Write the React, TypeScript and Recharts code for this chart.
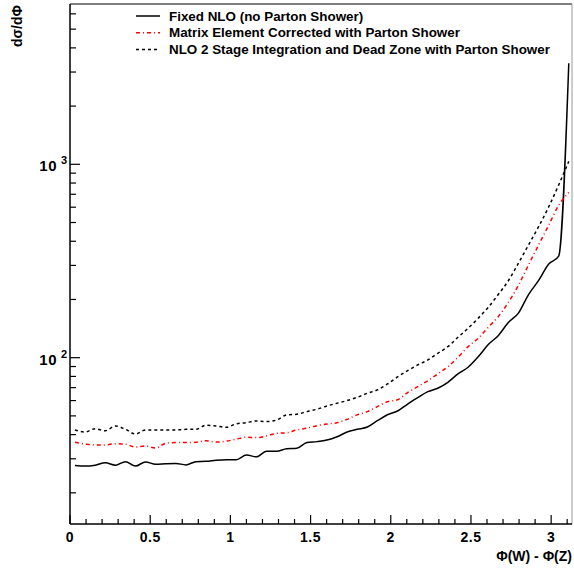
import React from 'react';
import {
  LineChart,
  Line,
  XAxis,
  YAxis,
  ReferenceLine,
} from 'recharts';

// bin centres of the 50 bins between 0 and pi
const phiCenters = [
  0.031, 0.094, 0.157, 0.22, 0.283, 0.346, 0.408, 0.471, 0.534, 0.597,
  0.66, 0.723, 0.785, 0.848, 0.911, 0.974, 1.037, 1.1, 1.162, 1.225,
  1.288, 1.351, 1.414, 1.477, 1.539, 1.602, 1.665, 1.728, 1.791, 1.854,
  1.916, 1.979, 2.042, 2.105, 2.168, 2.231, 2.293, 2.356, 2.419, 2.482,
  2.545, 2.608, 2.67, 2.733, 2.796, 2.859, 2.922, 2.985, 3.047, 3.11,
];

const fixedNLO = [
  27.7, 27.5, 27.8, 28.6, 27.8, 29.0, 27.5, 28.9, 28.1, 28.3,
  28.4, 27.9, 29.0, 29.1, 29.5, 29.7, 29.7, 31.4, 30.7, 32.8,
  32.8, 33.8, 34.0, 36.4, 36.8, 37.5, 39.0, 41.3, 42.6, 43.8,
  47.2, 50.7, 53.0, 57.6, 62.1, 66.7, 69.5, 74.6, 82.4, 89.2,
  101, 117, 130, 152, 170, 212, 251, 305, 335, 3330,
];

const matrixElement = [
  36.5, 35.8, 35.4, 35.4, 35.9, 35.7, 34.5, 34.9, 34.1, 36.1,
  36.4, 36.4, 36.5, 37.2, 36.6, 37.0, 37.9, 38.8, 38.6, 39.4,
  40.6, 40.9, 42.3, 43.2, 44.5, 45.4, 46.1, 48.0, 50.6, 52.6,
  55.8, 59.2, 60.6, 66.0, 70.8, 76.0, 82.4, 89.8, 100.5, 114,
  125.9, 143.6, 163, 193, 237, 302, 383, 485, 614, 715,
];

const nloDeadZone = [
  42.3, 41.3, 42.9, 41.9, 44.3, 42.6, 40.3, 42.3, 42.3, 42.3,
  42.3, 42.6, 42.6, 44.7, 44.3, 43.7, 45.5, 46.1, 47.1, 46.7,
  47.6, 50.6, 51.0, 52.6, 54.1, 56.3, 58.1, 60.0, 62.4, 65.5,
  68.1, 73.1, 79.5, 85.7, 91.7, 97.3, 105.4, 114, 127.5, 141.9,
  159.9, 182.2, 212, 250, 308, 383, 476, 603, 782, 1035,
];

const xTicks = [
  0, 0.1, 0.2, 0.3, 0.4, 0.5, 0.6, 0.7, 0.8, 0.9, 1, 1.1, 1.2, 1.3, 1.4, 1.5,
  1.6, 1.7, 1.8, 1.9, 2, 2.1, 2.2, 2.3, 2.4, 2.5, 2.6, 2.7, 2.8, 2.9, 3, 3.1,
];
const xLabelTicks = [0, 0.5, 1, 1.5, 2, 2.5, 3];

const yTicks = [
  20, 30, 40, 50, 60, 70, 80, 90, 100, 200, 300, 400, 500, 600, 700, 800, 900,
  1000, 2000, 3000, 4000, 5000, 6000,
];
const yLabelTicks = [100, 1000];

const legendItems = [
  { name: 'Fixed NLO (no Parton Shower)', color: '#000', dash: undefined as string | undefined },
  { name: 'Matrix Element Corrected with Parton Shower', color: '#ff0000', dash: '4 3 1 3' },
  { name: 'NLO 2 Stage Integration and Dead Zone with Parton Shower', color: '#000', dash: '3 3' },
];

const data = phiCenters.map((phi, i) => ({
  phi,
  fixed: fixedNLO[i],
  mec: matrixElement[i],
  dead: nloDeadZone[i],
}));

const FONT = '"Liberation Sans", Arial, Helvetica, sans-serif';

const XTick = ({ x, y, payload }: any) => {
  const v = payload.value;
  const major = xLabelTicks.includes(v);
  return (
    <g>
      <line x1={x} x2={x} y1={y} y2={y - (major ? 9 : 5)} stroke="#000" strokeWidth={1.2} />
      {major && (
        <text x={x} y={y + 18} textAnchor="middle" fontSize={14} fontWeight="bold" fontFamily={FONT} fill="#000" letterSpacing={0.5}>
          {String(v)}
        </text>
      )}
    </g>
  );
};

const YTick = ({ x, y, payload }: any) => {
  const v = payload.value;
  const major = yLabelTicks.includes(v);
  return (
    <g>
      <line x1={x} x2={x + (major ? 10 : 6)} y1={y} y2={y} stroke="#000" strokeWidth={1.2} />
      {major && (
        <>
          <text x={x - 13} y={y + 7} textAnchor="end" fontSize={15} fontWeight="bold" fontFamily={FONT} fill="#000" letterSpacing={0.5}>
            10
          </text>
          <text x={x - 9} y={y} textAnchor="start" fontSize={11} fontWeight="bold" fontFamily={FONT} fill="#000">
            {String(Math.round(Math.log10(v)))}
          </text>
        </>
      )}
    </g>
  );
};

const LegendBox = () => (
  <svg width={574} height={60} style={{ position: 'absolute', left: 0, top: 0, pointerEvents: 'none' }}>
    {legendItems.map((item, i) => {
      const cy = 16 + i * 16.7;
      return (
        <g key={item.name}>
          <line x1={136} x2={160} y1={cy} y2={cy} stroke={item.color} strokeWidth={1.5} strokeDasharray={item.dash} />
          <text x={169} y={cy + 4.6} fontSize={13.4} fontWeight="bold" fontFamily={FONT} fill="#000">
            {item.name}
          </text>
        </g>
      );
    })}
  </svg>
);

export default function App() {
  return (
    <div style={{ position: 'absolute', left: 0, top: 0, width: 574, height: 571, background: '#fff' }}>
      <LineChart width={574} height={571} data={data} margin={{ top: 4, right: 2, left: 0, bottom: 0 }}>
        <XAxis
          dataKey="phi"
          type="number"
          domain={[0, 3.13]}
          ticks={xTicks}
          interval={0}
          allowDataOverflow
          height={47}
          tickSize={0}
          tickMargin={0}
          tick={<XTick />}
          axisLine={{ stroke: '#000', strokeWidth: 1.5 }}
          label={{
            content: () => (
              <text x={572} y={561} textAnchor="end" fontSize={14} fontWeight="bold" fontFamily={FONT} fill="#000">
                Φ(W) - Φ(Z)
              </text>
            ),
          }}
        />
        <YAxis
          scale="log"
          domain={[13.8, 6745]}
          ticks={yTicks}
          interval={0}
          allowDataOverflow
          width={70}
          tickSize={0}
          tickMargin={0}
          tick={<YTick />}
          axisLine={{ stroke: '#000', strokeWidth: 1.5 }}
          label={{
            content: () => (
              <text transform="translate(22,5) rotate(-90)" textAnchor="end" fontSize={14} fontWeight="bold" fontFamily={FONT} fill="#000">
                dσ/dΦ
              </text>
            ),
          }}
        />
        <ReferenceLine y={6745} stroke="#000" strokeWidth={1} ifOverflow="extendDomain" />
        <ReferenceLine x={3.13} stroke="#999" strokeWidth={1} ifOverflow="extendDomain" />
        <Line type="monotone" dataKey="fixed" stroke="#000" strokeWidth={1.5} dot={false} activeDot={false} isAnimationActive={false} />
        <Line type="monotone" dataKey="mec" stroke="#ff0000" strokeWidth={1.5} strokeDasharray="4 3 1 3" dot={false} activeDot={false} isAnimationActive={false} />
        <Line type="monotone" dataKey="dead" stroke="#000" strokeWidth={1.5} strokeDasharray="3 3" dot={false} activeDot={false} isAnimationActive={false} />
      </LineChart>
      <LegendBox />
    </div>
  );
}
